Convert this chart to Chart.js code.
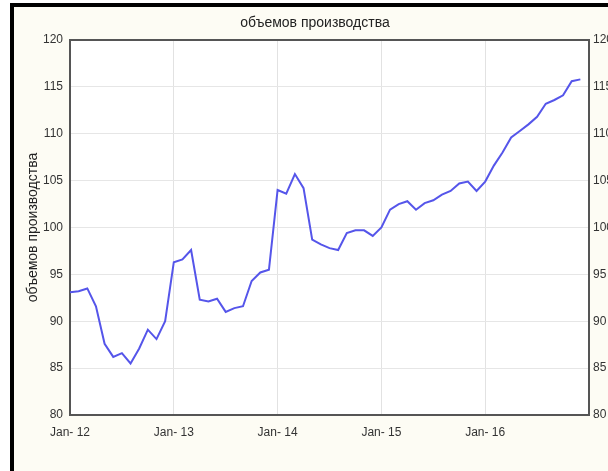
<!DOCTYPE html>
<html>
<head>
<meta charset="utf-8">
<script src="https://cdn.jsdelivr.net/npm/chart.js@4/dist/chart.umd.min.js"></script>
<style>
  html, body { margin: 0; padding: 0; background: #fff; overflow: hidden; }
  #frame {
    position: absolute; left: 10px; top: 3px; width: 700px; height: 464px;
    background: #fdfcf4; border-left: 4px solid #000; border-top: 4px solid #000;
    border-bottom: 2px solid #cfcfcf;
  }
  #wrap { position: absolute; left: 0; top: 0; width: 630px; height: 471px; }
</style>
</head>
<body>
<div id="frame"></div>
<div id="wrap"><canvas id="chart"></canvas></div>
<script>
// monthly values, Jan-12 .. Dec-16 (month index 0..59)
const values = [
  93.1, 93.2, 93.5, 91.6, 87.6, 86.2, 86.6, 85.5, 87.1, 89.1, 88.1, 90.0,
  96.3, 96.6, 97.6, 92.3, 92.1, 92.4, 91.0, 91.4, 91.6, 94.3, 95.2, 95.5,
  104.0, 103.6, 105.7, 104.2, 98.7, 98.2, 97.8, 97.6, 99.4, 99.7, 99.7, 99.1,
  100.0, 101.9, 102.5, 102.8, 101.9, 102.6, 102.9, 103.5, 103.9, 104.7, 104.9, 103.9,
  104.9, 106.6, 108.0, 109.6, 110.3, 111.0, 111.8, 113.2, 113.6, 114.1, 115.6, 115.8
];
const yearLabels = ["Jan- 12", "Jan- 13", "Jan- 14", "Jan- 15", "Jan- 16"];
const title = "объемов производства";

const points = values.map((v, i) => ({ x: i, y: v }));
const font = { family: "'Liberation Sans', Arial, sans-serif", size: 12 };

// white plot area + dark frame around it
const plotBox = {
  id: "plotBox",
  beforeDraw(chart) {
    const { ctx, chartArea: a } = chart;
    ctx.save();
    ctx.fillStyle = "#ffffff";
    ctx.fillRect(a.left, a.top, a.right - a.left, a.bottom - a.top);
    ctx.restore();
  },
  afterDraw(chart) {
    const { ctx, chartArea: a } = chart;
    ctx.save();
    ctx.strokeStyle = "#555";
    ctx.lineWidth = 2;
    ctx.beginPath();
    ctx.moveTo(a.left, a.top);
    ctx.lineTo(a.right, a.top);
    ctx.stroke();
    ctx.restore();
  }
};

new Chart(document.getElementById("chart"), {
  type: "line",
  plugins: [plotBox],
  data: {
    datasets: [{
      data: points,
      borderColor: "#5555ea",
      borderWidth: 2,
      pointRadius: 0,
      tension: 0,
      fill: false
    }]
  },
  options: {
    responsive: true,
    maintainAspectRatio: false,
    animation: false,
    layout: { padding: { top: 0, right: 0, left: 0, bottom: 0 } },
    plugins: {
      legend: { display: false },
      tooltip: { enabled: false },
      title: {
        display: true,
        text: title,
        color: "#222",
        font: { family: font.family, size: 14, weight: "normal" },
        padding: { top: 15, bottom: 8.2 }
      }
    },
    scales: {
      x: {
        type: "linear",
        min: 0,
        max: 60,
        ticks: {
          stepSize: 12,
          color: "#333",
          font: font,
          padding: 10,
          maxRotation: 0,
          callback: (v) => yearLabels[v / 12] || ""
        },
        grid: {
          color: (c) => (c.tick && c.tick.value > 0 && c.tick.value < 60) ? "#e2e2e2" : "rgba(0,0,0,0)",
          drawTicks: false
        },
        border: { color: "#555", width: 2 },
        afterFit: (s) => { s.height = 56; }
      },
      y: {
        position: "left",
        min: 80,
        max: 120,
        ticks: { stepSize: 5, color: "#333", font: font, padding: 7 },
        grid: { color: "#e6e6e6", drawTicks: false },
        border: { color: "#555", width: 2 },
        title: {
          display: true,
          text: title,
          color: "#222",
          font: { family: font.family, size: 14 },
          padding: { top: 24.6, bottom: 0 }
        },
        afterFit: (s) => { s.width = 70; }
      },
      y2: {
        position: "right",
        min: 80,
        max: 120,
        ticks: { stepSize: 5, color: "#333", font: font, padding: 4 },
        grid: { display: false, drawTicks: false },
        border: { color: "#555", width: 2 },
        afterFit: (s) => { s.width = 41; }
      }
    }
  }
});
</script>
</body>
</html>
